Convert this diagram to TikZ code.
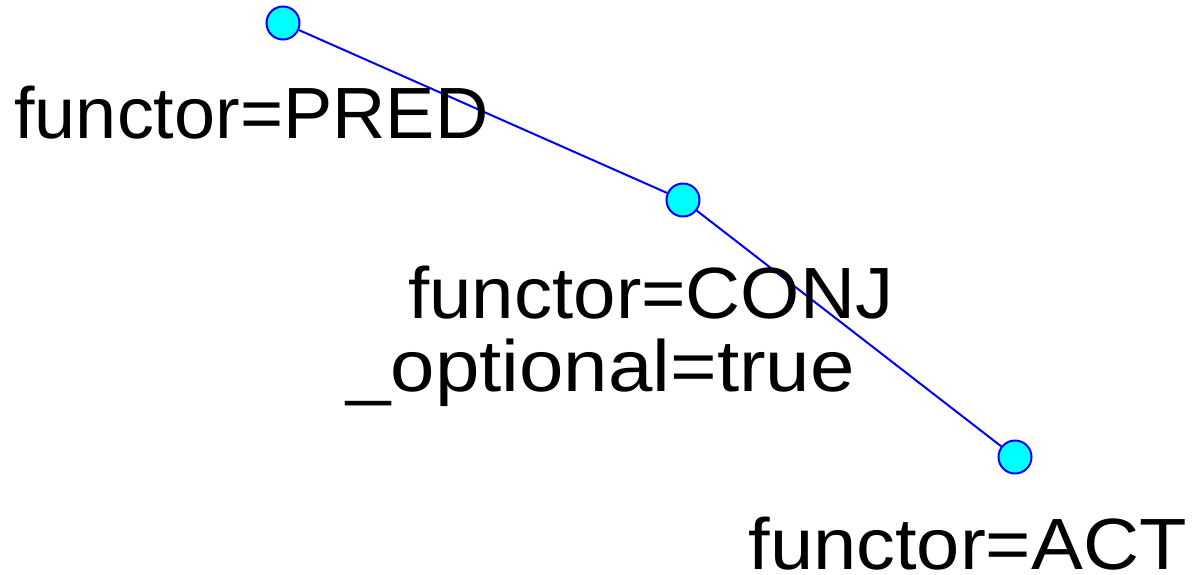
\documentclass[tikz,border=0pt]{standalone}
\usepackage{fontspec}
\setmainfont{Liberation Sans}
\definecolor{dotfill}{RGB}{0,255,255}
\definecolor{dotline}{RGB}{0,0,255}
\begin{document}
\begin{tikzpicture}[x=0.5pt,y=-0.5pt,
  dot/.style={circle,draw=dotline,fill=dotfill,line width=1pt,minimum size=16.5pt,inner sep=0pt},
  edge/.style={draw=dotline,line width=1pt},
  lab/.style={anchor=base west,inner sep=0pt,font=\fontsize{36.3}{40}\selectfont}]
\useasboundingbox (0,0) rectangle (1195,574);
\node[dot] (pred) at (283,23) {};
\node[dot] (conj) at (683,200) {};
\node[dot] (act) at (1015,457) {};
\draw[edge] (pred) -- (conj);
\draw[edge] (conj) -- (act);
\node[lab] (lpred) at (14,138) {\scalebox{1.017}[1]{functor=PRED}};
\node[lab] (lconj) at (408,318) {\scalebox{1.05}[1]{functor=CONJ}};
\node[lab] (lopt) at (346,391) {\scalebox{1.10}[1]{\_optional=true}};
\node[lab] (lact) at (748,569) {\scalebox{1.07}[1]{functor=ACT}};
\end{tikzpicture}
\end{document}
